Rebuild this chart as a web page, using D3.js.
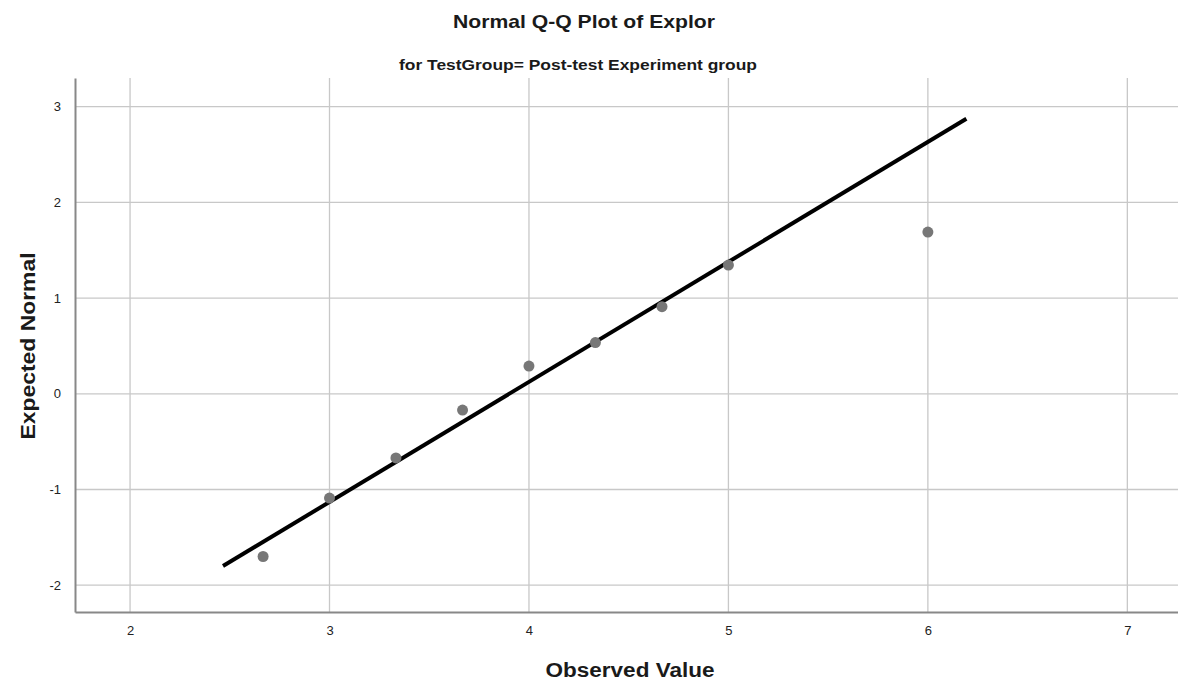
<!DOCTYPE html>
<html>
<head>
<meta charset="utf-8">
<script src="https://cdn.jsdelivr.net/npm/d3@7"></script>
<style>
  body { margin: 0; background: #fff; }
  svg { font-family: "Liberation Sans", Arial, sans-serif; }
</style>
</head>
<body>
<svg id="qq" width="1178" height="681"></svg>
<script>
// Observed values and their expected normal scores
const observed = [2.667, 3.0, 3.333, 3.667, 4.0, 4.333, 4.667, 5.0, 6.0];
const expected = [-1.70, -1.09, -0.67, -0.17, 0.29, 0.535, 0.91, 1.345, 1.69];
// Reference line end points (observed, expected)
const refLineX = [2.466, 6.193];
const refLineY = [-1.80, 2.875];
const xTicks = [2, 3, 4, 5, 6, 7];
const yTicks = [-2, -1, 0, 1, 2, 3];

const svg = d3.select("#qq");
const m = {left: 75, right: 1178, top: 78, bottom: 612};

const x = d3.scaleLinear().domain([1.724, 7.254]).range([m.left, m.right]);
const y = d3.scaleLinear().domain([-2.28, 3.3]).range([m.bottom, m.top]);

// Grid lines
const grid = svg.append("g");
grid.selectAll("line.vx").data(xTicks).join("line")
  .attr("x1", d => x(d)).attr("x2", d => x(d))
  .attr("y1", m.top).attr("y2", m.bottom)
  .attr("stroke", "#c8c8c8").attr("stroke-width", 1.3);
grid.selectAll("line.hy").data(yTicks).join("line")
  .attr("x1", m.left).attr("x2", m.right)
  .attr("y1", d => y(d)).attr("y2", d => y(d))
  .attr("stroke", "#c8c8c8").attr("stroke-width", 1.3);

// Axes
const xAxis = svg.append("g").attr("transform", `translate(0,${m.bottom})`)
  .call(d3.axisBottom(x).tickValues(xTicks).tickSize(0).tickPadding(14).tickFormat(d3.format("d")));
const yAxis = svg.append("g").attr("transform", `translate(${m.left},0)`)
  .call(d3.axisLeft(y).tickValues(yTicks).tickSize(0).tickPadding(14).tickFormat(d3.format("d")));
[xAxis, yAxis].forEach(a => {
  a.select(".domain").attr("stroke", "#888").attr("stroke-width", 2);
  a.selectAll("text").attr("font-size", 13).attr("fill", "#222")
    .attr("font-family", "Liberation Sans, Arial, sans-serif");
});
// SPSS-style: replace the minus sign with a hyphen
yAxis.selectAll("text").text(d => String(d));

// Reference line
svg.append("line")
  .attr("x1", x(refLineX[0])).attr("y1", y(refLineY[0]))
  .attr("x2", x(refLineX[1])).attr("y2", y(refLineY[1]))
  .attr("stroke", "#000").attr("stroke-width", 4);

// Points
svg.append("g").selectAll("circle")
  .data(observed.map((d, i) => [d, expected[i]]))
  .join("circle")
  .attr("cx", d => x(d[0])).attr("cy", d => y(d[1]))
  .attr("r", 5.5).attr("fill", "#777");

// Titles (textLength stretches glyphs to the reference widths)
function label(tx, str, size, len) {
  return svg.append("text").attr("transform", tx)
    .attr("text-anchor", "middle")
    .attr("font-size", size).attr("font-weight", "bold").attr("fill", "#1a1a1a")
    .attr("textLength", len).attr("lengthAdjust", "spacingAndGlyphs")
    .text(str);
}
label("translate(584,28)", "Normal Q-Q Plot of Explor", 19, 262);
label("translate(578,70)", "for TestGroup= Post-test Experiment group", 15, 358);
label("translate(630,677)", "Observed Value", 20, 169);
label("translate(35,346) rotate(-90)", "Expected Normal", 20, 187);
</script>
</body>
</html>
